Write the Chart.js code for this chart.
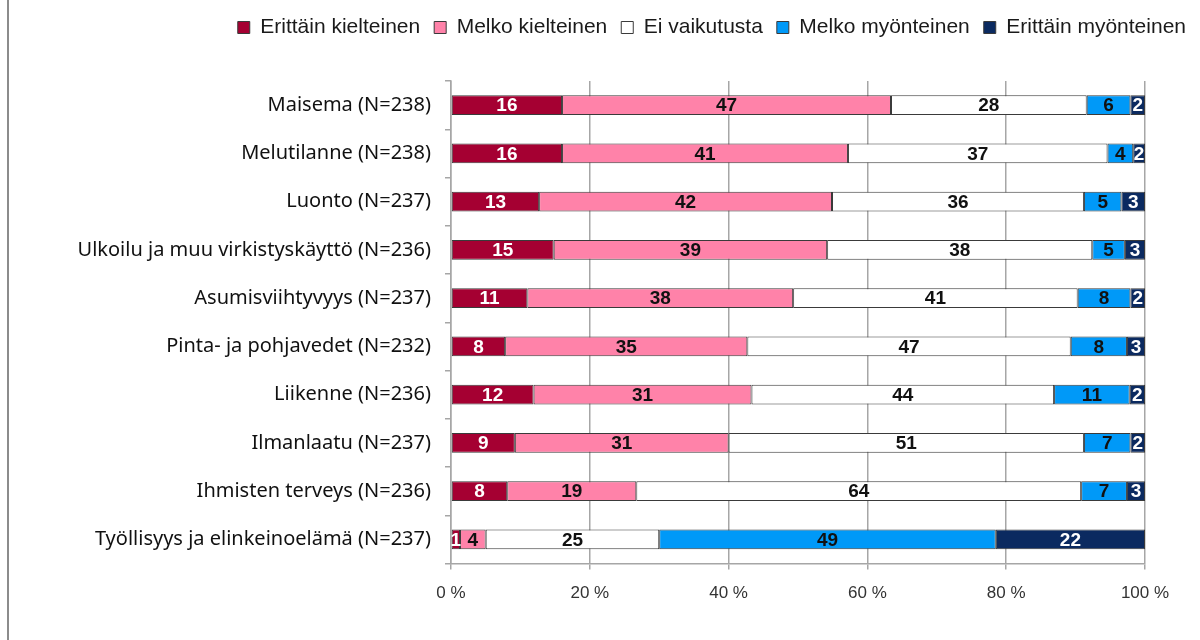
<!DOCTYPE html>
<html>
<head>
<meta charset="utf-8">
<script src="https://cdn.jsdelivr.net/npm/chart.js@4"></script>
<style>
  html, body { margin: 0; padding: 0; background: #fff; }
  #wrap { position: relative; width: 1200px; height: 640px; }
  #edge { position: absolute; left: 7px; top: 0; width: 2px; height: 640px; background: #8c8c8c; }
</style>
</head>
<body>
<div id="wrap">
  <canvas id="impactChart" width="1200" height="640"></canvas>
  <div id="edge"></div>
</div>
<script>
const categories = [
    'Maisema (N=238)',
    'Melutilanne (N=238)',
    'Luonto (N=237)',
    'Ulkoilu ja muu virkistyskäyttö (N=236)',
    'Asumisviihtyvyys (N=237)',
    'Pinta- ja pohjavedet (N=232)',
    'Liikenne (N=236)',
    'Ilmanlaatu (N=237)',
    'Ihmisten terveys (N=236)',
    'Työllisyys ja elinkeinoelämä (N=237)'
];
const seriesNames = ['Erittäin kielteinen', 'Melko kielteinen', 'Ei vaikutusta', 'Melko myönteinen', 'Erittäin myönteinen'];
const veryNegative = [16.0, 16.0, 12.7, 14.8, 11.0, 7.8, 11.9, 9.2, 8.1, 1.3];
const fairlyNegative = [47.4, 41.2, 42.2, 39.4, 38.3, 34.9, 31.4, 30.8, 18.6, 3.7];
const noEffect = [28.2, 37.4, 36.3, 38.2, 41.0, 46.6, 43.6, 51.2, 64.1, 25.0];
const fairlyPositive = [6.3, 3.7, 5.4, 4.7, 7.6, 8.1, 10.9, 6.7, 6.6, 48.5];
const veryPositive = [2.1, 1.7, 3.4, 2.9, 2.1, 2.6, 2.2, 2.1, 2.6, 21.5];
const xTicks = [0, 20, 40, 60, 80, 100];

const fills = ['#a50032', '#ff82a9', '#ffffff', '#0099f8', '#0b2a60'];
const labelColors = ['#ffffff', '#111111', '#111111', '#111111', '#ffffff'];
const allSeries = [veryNegative, fairlyNegative, noEffect, fairlyPositive, veryPositive];

// draws the rounded value in the middle of every segment
const segmentLabels = {
    id: 'segmentLabels',
    afterDatasetsDraw(chart) {
        const ctx = chart.ctx;
        ctx.save();
        ctx.font = 'bold 19px "Liberation Sans", Arial, sans-serif';
        ctx.textAlign = 'center';
        ctx.textBaseline = 'middle';
        chart.data.datasets.forEach((ds, i) => {
            const meta = chart.getDatasetMeta(i);
            ctx.fillStyle = labelColors[i];
            meta.data.forEach((bar, j) => {
                const p = bar.getProps(['x', 'y', 'base'], true);
                ctx.fillText(String(Math.round(ds.data[j])), (p.x + p.base) / 2, p.y + 1);
            });
        });
        ctx.restore();
    }
};

// empty axes used only as spacers around the plot
const spacer = (pos, size) => ({
    type: 'linear',
    position: pos,
    display: true,
    grid: { display: false },
    border: { display: false },
    ticks: { display: false },
    afterFit: (scale) => {
        if (pos === 'top') scale.height = size; else scale.width = size;
    }
});

new Chart(document.getElementById('impactChart'), {
    type: 'bar',
    data: {
        labels: categories,
        datasets: allSeries.map((vals, i) => ({
            label: seriesNames[i],
            data: vals,
            backgroundColor: fills[i],
            borderColor: '#3a3a3a',
            borderWidth: 1,
            borderSkipped: false,
            barPercentage: 0.41,
            categoryPercentage: 1
        }))
    },
    options: {
        indexAxis: 'y',
        responsive: false,
        animation: false,
        layout: { padding: { top: 3, right: 0, bottom: 22, left: 0 } },
        plugins: {
            legend: {
                position: 'top',
                align: 'end',
                labels: {
                    boxWidth: 12,
                    boxHeight: 12,
                    padding: 14,
                    color: '#1a1a1a',
                    font: { family: '"Liberation Sans", Arial, sans-serif', size: 21 }
                }
            },
            tooltip: { enabled: false }
        },
        scales: {
            x: {
                stacked: true,
                min: 0,
                max: 100,
                afterBuildTicks: (scale) => { scale.ticks = xTicks.map(v => ({ value: v })); },
                grid: { color: '#a6a6a6', lineWidth: 1.5, tickLength: 6 },
                border: { color: '#a6a6a6', width: 1.5 },
                ticks: {
                    padding: 14,
                    color: '#333333',
                    font: { family: '"Liberation Sans", Arial, sans-serif', size: 17 },
                    callback: (v) => v + ' %'
                }
            },
            y: {
                stacked: true,
                afterFit: (scale) => { scale.width = 451; },
                grid: { drawOnChartArea: false, color: '#a6a6a6', lineWidth: 1.5, tickLength: 6, offset: true },
                border: { color: '#a6a6a6', width: 1.5 },
                ticks: {
                    padding: 14,
                    color: '#111111',
                    font: { family: '"Noto Sans", sans-serif', size: 20 }
                }
            },
            padTop: spacer('top', 33),
            padRight: spacer('right', 55)
        }
    },
    plugins: [segmentLabels]
});
</script>
</body>
</html>
